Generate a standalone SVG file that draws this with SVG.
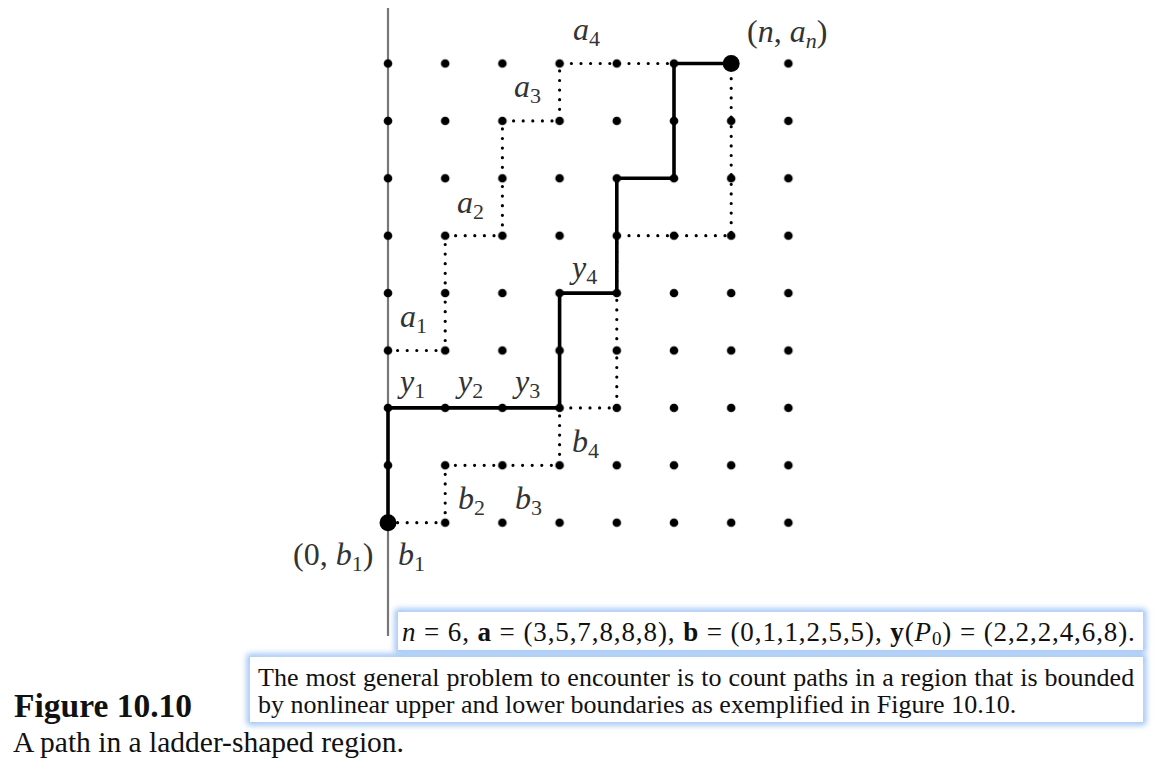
<svg xmlns="http://www.w3.org/2000/svg" width="1160" height="783" viewBox="0 0 1160 783">
<style>
.m{font-size:32px;fill:#333;font-style:italic}
.r{font-style:normal}
.sb{font-size:22px;font-style:normal}
.dotted{fill:none;stroke:#000;stroke-width:3.2;stroke-linecap:round;stroke-dasharray:0 9.6}
.path{fill:none;stroke:#000;stroke-width:3.6;stroke-linejoin:miter}
.cap{fill:#111}
</style>
<defs>
<filter id="glow" x="-5%" y="-40%" width="110%" height="180%"><feGaussianBlur stdDeviation="3"/></filter>
<pattern id="grid" x="359.4" y="34.8" width="57.2" height="57.4" patternUnits="userSpaceOnUse">
<circle cx="28.6" cy="28.7" r="4.3" fill="#000"/>
</pattern>
</defs>
<rect width="1160" height="783" fill="#fff"/>
<g id="axis"><line x1="388" y1="8" x2="388" y2="636" stroke="#777" stroke-width="2.2"/></g>
<g id="grid-dots"><rect x="359.4" y="34.8" width="457.6" height="516.6" fill="url(#grid)"/></g>
<g id="connectors">
<path id="upper" class="dotted" d="M388,350.5 H445.2 V235.7 H502.4 V120.9 H559.6 V63.5 H674"/>
<path id="lower" class="dotted" d="M388,522.7 H445.2 V465.3 H559.6 V407.9 H616.8 V235.7 H731.2 V63.5"/>
<path id="lattice-path" class="path" d="M388,522.7 V407.9 H559.6 V293.1 H616.8 V178.3 H674 V63.5 H731.2"/>
</g>
<g id="start"><circle cx="388" cy="522.7" r="8.5" fill="#000"/></g>
<g id="end"><circle cx="731.2" cy="63.5" r="8.5" fill="#000"/></g>
<g id="labels" font-family="Liberation Serif">
<text class="m" x="573" y="40">a<tspan class="sb" dy="6">4</tspan></text>
<text class="m" x="747" y="42"><tspan class="r">(</tspan>n<tspan class="r">, </tspan>a<tspan font-size="22" dy="6">n</tspan><tspan dy="-6" class="r">)</tspan></text>
<text class="m" x="514" y="97">a<tspan class="sb" dy="6">3</tspan></text>
<text class="m" x="457" y="213">a<tspan class="sb" dy="6">2</tspan></text>
<text class="m" x="400" y="327">a<tspan class="sb" dy="6">1</tspan></text>
<text class="m" x="400" y="392">y<tspan class="sb" dy="6">1</tspan></text>
<text class="m" x="458" y="392">y<tspan class="sb" dy="6">2</tspan></text>
<text class="m" x="515" y="392">y<tspan class="sb" dy="6">3</tspan></text>
<text class="m" x="572" y="278">y<tspan class="sb" dy="6">4</tspan></text>
<text class="m" x="572" y="452">b<tspan class="sb" dy="6">4</tspan></text>
<text class="m" x="458" y="509">b<tspan class="sb" dy="6">2</tspan></text>
<text class="m" x="515" y="509">b<tspan class="sb" dy="6">3</tspan></text>
<text class="m" x="293" y="565"><tspan class="r">(0, </tspan>b<tspan class="sb" dy="6">1</tspan><tspan dy="-6" class="r">)</tspan></text>
<text class="m" x="398" y="565">b<tspan class="sb" dy="6">1</tspan></text>
</g>
<g id="box1" font-family="Liberation Serif">
<rect x="398" y="612" width="745" height="38" fill="none" stroke="#7fb0f0" stroke-width="5" filter="url(#glow)"/>
<rect x="398" y="612" width="745" height="38" fill="#fff"/>
<text class="cap" x="402" y="641" font-size="27" letter-spacing="0.9"><tspan font-style="italic">n</tspan> = 6, <tspan font-weight="bold">a</tspan> = (3,5,7,8,8,8), <tspan font-weight="bold">b</tspan> = (0,1,1,2,5,5), <tspan font-weight="bold">y</tspan>(<tspan font-style="italic">P</tspan><tspan font-size="19" dy="4">0</tspan><tspan dy="-4">) = (2,2,2,4,6,8).</tspan></text>
</g>
<g id="box2" font-family="Liberation Serif">
<rect x="250" y="657" width="893" height="65" fill="none" stroke="#7fb0f0" stroke-width="5" filter="url(#glow)"/>
<rect x="250" y="657" width="893" height="65" fill="#fff"/>
<text class="cap" x="258" y="686" font-size="26" word-spacing="0.5">The most general problem to encounter is to count paths in a region that is bounded</text>
<text class="cap" x="258" y="713" font-size="26">by nonlinear upper and lower boundaries as exemplified in Figure 10.10.</text>
</g>
<g id="caption" font-family="Liberation Serif">
<text class="cap" x="14" y="717" font-size="33.5" font-weight="bold">Figure 10.10</text>
<text class="cap" x="13" y="752" font-size="29.5">A path in a ladder-shaped region.</text>
</g>
</svg>
